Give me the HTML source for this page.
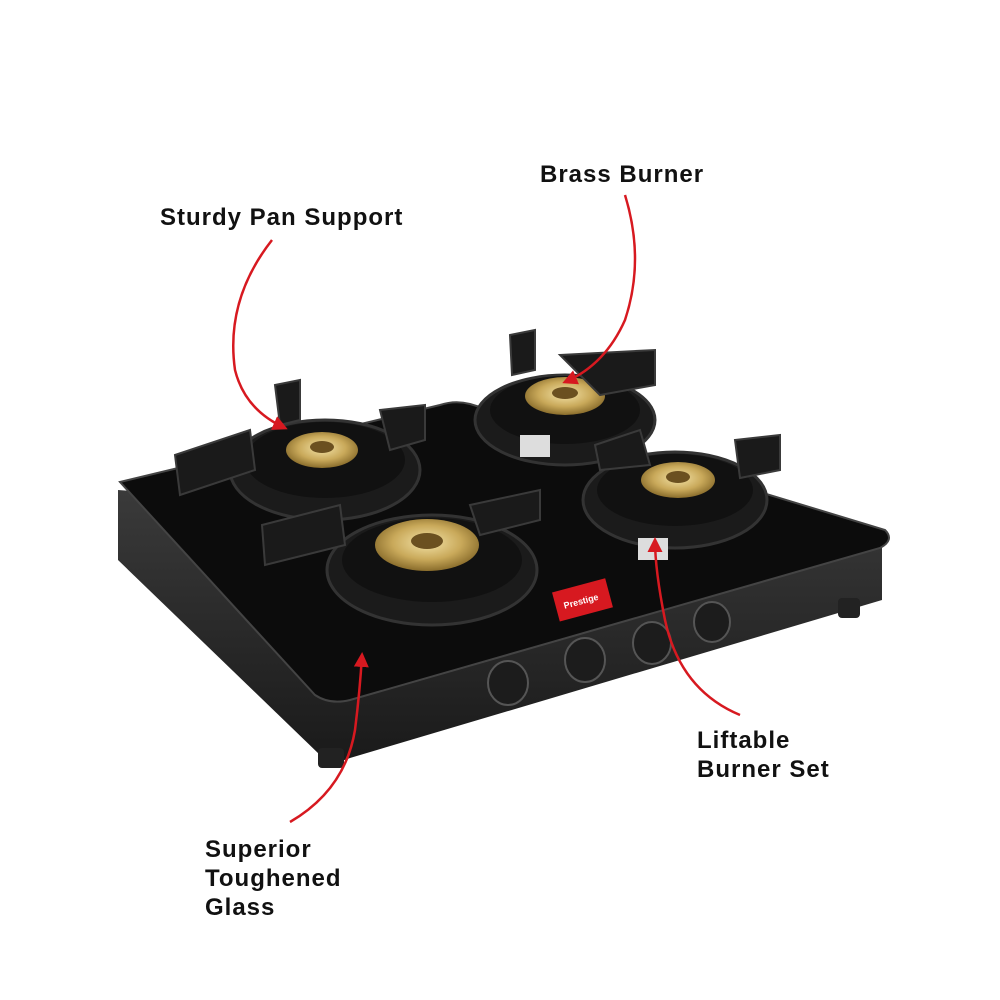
<!DOCTYPE html>
<html><head><meta charset="utf-8"><style>
html,body{margin:0;padding:0;background:#fff;width:1000px;height:1000px;overflow:hidden}
text{font-family:"Liberation Sans",sans-serif;font-weight:bold;font-size:24px;fill:#111;letter-spacing:1px}
</style></head><body>
<svg width="1000" height="1000" viewBox="0 0 1000 1000" xmlns="http://www.w3.org/2000/svg">
<defs>
<marker id="ah" viewBox="0 0 10 10" refX="8" refY="5" markerWidth="6" markerHeight="6" orient="auto"><path d="M0,0 L10,5 L0,10 z" fill="#d71920"/></marker>
<radialGradient id="brass" cx="50%" cy="45%" r="55%"><stop offset="0" stop-color="#f3e3a8"/><stop offset="0.6" stop-color="#c9a95a"/><stop offset="1" stop-color="#8a6d2c"/></radialGradient>
<linearGradient id="side" x1="0" y1="0" x2="0" y2="1"><stop offset="0" stop-color="#3a3a3a"/><stop offset="1" stop-color="#1a1a1a"/></linearGradient>
</defs>
<path d="M118,490 L118,560 L320,755 Q335,765 350,758 L882,600 L882,545 Z" fill="url(#side)"/>
<rect x="318" y="748" width="26" height="20" rx="4" fill="#222"/>
<rect x="838" y="598" width="22" height="20" rx="4" fill="#222"/>
<path d="M120,482 L440,405 Q455,400 470,404 L885,530 Q895,540 880,548 L350,700 Q330,705 315,695 Z" fill="#0c0c0c" stroke="#444" stroke-width="2"/>
<g>
 <ellipse cx="325" cy="470" rx="95" ry="50" fill="#1b1b1b" stroke="#333" stroke-width="3"/>
 <ellipse cx="325" cy="460" rx="80" ry="38" fill="#111"/>
 <ellipse cx="322" cy="450" rx="36" ry="18" fill="url(#brass)"/>
 <ellipse cx="322" cy="447" rx="12" ry="6" fill="#6b5020"/>
 <ellipse cx="565" cy="420" rx="90" ry="45" fill="#1b1b1b" stroke="#333" stroke-width="3"/>
 <ellipse cx="565" cy="410" rx="75" ry="34" fill="#111"/>
 <ellipse cx="565" cy="396" rx="40" ry="19" fill="url(#brass)"/>
 <ellipse cx="565" cy="393" rx="13" ry="6" fill="#6b5020"/>
 <rect x="520" y="435" width="30" height="22" fill="#ddd"/>
 <ellipse cx="432" cy="570" rx="105" ry="55" fill="#1b1b1b" stroke="#333" stroke-width="3"/>
 <ellipse cx="432" cy="560" rx="90" ry="42" fill="#111"/>
 <ellipse cx="427" cy="545" rx="52" ry="26" fill="url(#brass)"/>
 <ellipse cx="427" cy="541" rx="16" ry="8" fill="#6b5020"/>
 <ellipse cx="675" cy="500" rx="92" ry="48" fill="#1b1b1b" stroke="#333" stroke-width="3"/>
 <ellipse cx="675" cy="490" rx="78" ry="36" fill="#111"/>
 <ellipse cx="678" cy="480" rx="37" ry="18" fill="url(#brass)"/>
 <ellipse cx="678" cy="477" rx="12" ry="6" fill="#6b5020"/>
 <rect x="638" y="538" width="30" height="22" fill="#ddd"/>
</g>
<g fill="#1a1a1a" stroke="#3a3a3a" stroke-width="2">
 <path d="M175,455 L250,430 L255,470 L180,495 Z"/>
 <path d="M380,410 L425,405 L425,440 L390,450 Z"/>
 <path d="M275,385 L300,380 L300,420 L280,425 Z"/>
 <path d="M510,335 L535,330 L535,370 L512,375 Z"/>
 <path d="M560,355 L655,350 L655,385 L600,395 Z"/>
 <path d="M262,525 L340,505 L345,545 L265,565 Z"/>
 <path d="M470,505 L540,490 L540,520 L480,535 Z"/>
 <path d="M595,445 L640,430 L650,465 L600,470 Z"/>
 <path d="M735,440 L780,435 L780,470 L740,478 Z"/>
</g>
<rect x="555" y="585" width="55" height="30" fill="#d71920" transform="rotate(-15 582 600)"/>
<text x="563" y="604" style="font-size:9px;fill:#fff;letter-spacing:0" transform="rotate(-15 582 600)">Prestige</text>
<g fill="#1c1c1c" stroke="#555" stroke-width="2">
 <ellipse cx="508" cy="683" rx="20" ry="22"/>
 <ellipse cx="585" cy="660" rx="20" ry="22"/>
 <ellipse cx="652" cy="643" rx="19" ry="21"/>
 <ellipse cx="712" cy="622" rx="18" ry="20"/>
</g>
<g fill="none" stroke="#d71920" stroke-width="2.5" marker-end="url(#ah)">
 <path d="M625,195 Q645,260 625,320 Q605,365 565,382"/>
 <path d="M272,240 Q225,300 235,370 Q245,410 285,428"/>
 <path d="M740,715 Q680,690 665,620 Q655,570 655,540"/>
 <path d="M290,822 Q345,790 355,730 Q360,690 362,655"/>
</g>
<text x="540" y="182">Brass Burner</text>
<text x="160" y="225">Sturdy Pan Support</text>
<text x="697" y="748">Liftable</text>
<text x="697" y="777">Burner Set</text>
<text x="205" y="857">Superior</text>
<text x="205" y="886">Toughened</text>
<text x="205" y="915">Glass</text>
</svg>
</body></html>
